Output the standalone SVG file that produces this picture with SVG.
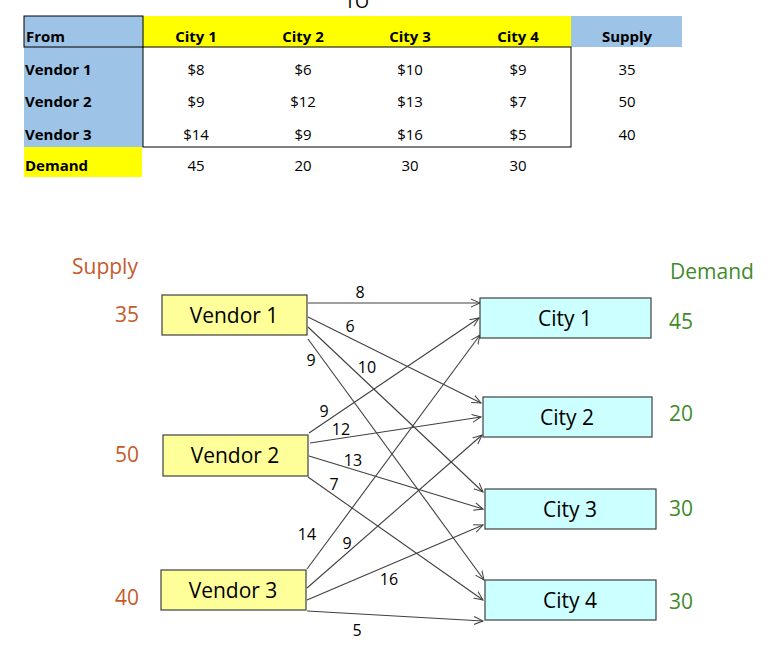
<svg xmlns="http://www.w3.org/2000/svg" width="777" height="667" viewBox="0 0 777 667">
<defs>
<marker id="ah" markerWidth="10" markerHeight="10" refX="9" refY="5" orient="auto" markerUnits="userSpaceOnUse"><path d="M0,1 L9,5 L0,9" fill="none" stroke="#404040" stroke-width="1"/></marker>
<style>
text{font-family:"Open Sans","Liberation Sans",Arial,sans-serif}
.th{font-size:15px;font-weight:bold;fill:#000}
.td{font-size:15px;fill:#000;text-anchor:middle}
.v{fill:#ffff99;stroke:#404040;stroke-width:1.2}
.c{fill:#ccffff;stroke:#404040;stroke-width:1.2}
.bt{font-size:21px;text-anchor:middle;fill:#000}
.e{stroke:#404040;stroke-width:1.1;fill:none;marker-end:url(#ah)}
.el{font-size:16px;fill:#000;text-anchor:middle}
.s{font-size:21px;fill:#c55a2b;text-anchor:middle}
.d{font-size:21px;fill:#3f8b2a;text-anchor:middle}
</style>
</defs>
<rect width="777" height="667" fill="#fff"/>
<g id="table">
<text x="357" y="8" class="td" style="font-size:18px">TO</text>
<rect x="24" y="16" width="119" height="131" fill="#9dc3e6"/>
<rect x="143" y="16" width="428" height="31" fill="#ffff00"/>
<rect x="571" y="16" width="111" height="31" fill="#9dc3e6"/>
<rect x="24" y="147" width="118" height="30" fill="#ffff00"/>
<rect x="24" y="16" width="119" height="31" fill="none" stroke="#000" stroke-width="1"/>
<rect x="143" y="47" width="428" height="100" fill="none" stroke="#000" stroke-width="1"/>
<text x="26" y="42" class="th">From</text>
<text x="196" y="42" class="th" text-anchor="middle">City 1</text>
<text x="303" y="42" class="th" text-anchor="middle">City 2</text>
<text x="410" y="42" class="th" text-anchor="middle">City 3</text>
<text x="518" y="42" class="th" text-anchor="middle">City 4</text>
<text x="627" y="42" class="th" text-anchor="middle">Supply</text>
<text x="25" y="75" class="th">Vendor 1</text>
<text x="25" y="107" class="th">Vendor 2</text>
<text x="25" y="140" class="th">Vendor 3</text>
<text x="25" y="171" class="th">Demand</text>
<text x="196" y="75" class="td">$8</text><text x="303" y="75" class="td">$6</text><text x="410" y="75" class="td">$10</text><text x="518" y="75" class="td">$9</text><text x="627" y="75" class="td">35</text>
<text x="196" y="107" class="td">$9</text><text x="303" y="107" class="td">$12</text><text x="410" y="107" class="td">$13</text><text x="518" y="107" class="td">$7</text><text x="627" y="107" class="td">50</text>
<text x="196" y="140" class="td">$14</text><text x="303" y="140" class="td">$9</text><text x="410" y="140" class="td">$16</text><text x="518" y="140" class="td">$5</text><text x="627" y="140" class="td">40</text>
<text x="196" y="171" class="td">45</text><text x="303" y="171" class="td">20</text><text x="410" y="171" class="td">30</text><text x="518" y="171" class="td">30</text>
</g>
<g id="connectors">
<line class="e" x1="308" y1="303" x2="480" y2="303"/>
<line class="e" x1="308" y1="317" x2="481" y2="403"/>
<line class="e" x1="308" y1="327" x2="483" y2="492"/>
<line class="e" x1="308" y1="339" x2="484" y2="580"/>
<line class="e" x1="309" y1="433" x2="479" y2="318"/>
<line class="e" x1="310" y1="443" x2="481" y2="417"/>
<line class="e" x1="309" y1="456" x2="483" y2="509"/>
<line class="e" x1="308" y1="477" x2="483" y2="600"/>
<line class="e" x1="307" y1="569" x2="480" y2="335"/>
<line class="e" x1="307" y1="588" x2="482" y2="435"/>
<line class="e" x1="307" y1="600" x2="483" y2="525"/>
<line class="e" x1="307" y1="611" x2="483" y2="621"/>
<text class="el" x="360" y="298">8</text>
<text class="el" x="350" y="332">6</text>
<text class="el" x="367" y="373">10</text>
<text class="el" x="311" y="366">9</text>
<text class="el" x="324" y="417">9</text>
<text class="el" x="341" y="435">12</text>
<text class="el" x="353" y="466">13</text>
<text class="el" x="334" y="490">7</text>
<text class="el" x="307" y="540">14</text>
<text class="el" x="347" y="549">9</text>
<text class="el" x="389" y="585">16</text>
<text class="el" x="357" y="636">5</text>
</g>
<g id="vendor1"><rect class="v" x="162" y="295" width="145" height="40"/><text class="bt" x="234" y="323">Vendor 1</text></g>
<g id="vendor2"><rect class="v" x="163" y="435" width="145" height="41"/><text class="bt" x="235" y="463">Vendor 2</text></g>
<g id="vendor3"><rect class="v" x="161" y="570" width="145" height="40"/><text class="bt" x="233" y="598">Vendor 3</text></g>
<g id="city1"><rect class="c" x="480" y="298" width="171" height="40"/><text class="bt" x="565" y="326">City 1</text></g>
<g id="city2"><rect class="c" x="483" y="397" width="169" height="40"/><text class="bt" x="567" y="425">City 2</text></g>
<g id="city3"><rect class="c" x="485" y="489" width="171" height="40"/><text class="bt" x="570" y="517">City 3</text></g>
<g id="city4"><rect class="c" x="485" y="580" width="171" height="40"/><text class="bt" x="570" y="608">City 4</text></g>
<g id="labels">
<text class="s" x="105" y="274">Supply</text>
<text class="s" x="127" y="322">35</text>
<text class="s" x="127" y="462">50</text>
<text class="s" x="127" y="605">40</text>
<text class="d" x="712" y="279">Demand</text>
<text class="d" x="681" y="329">45</text>
<text class="d" x="681" y="421">20</text>
<text class="d" x="681" y="516">30</text>
<text class="d" x="681" y="609">30</text>
</g>
</svg>
